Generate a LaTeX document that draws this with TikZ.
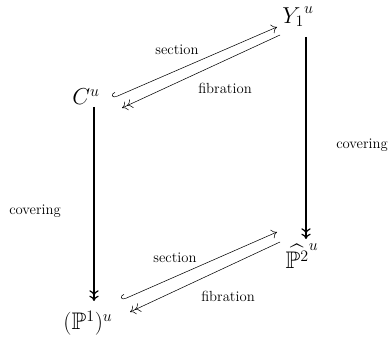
\documentclass[tikz,border=0pt]{standalone}
\usepackage{amsmath,amssymb}
\usepackage{tikz}
\usetikzlibrary{arrows.meta,positioning}

\begin{document}
\begin{tikzpicture}[x=0.75pt,y=-0.75pt,
   obj/.style={inner sep=0pt,font=\fontsize{18}{21}\selectfont},
   lbl/.style={inner sep=0pt,font=\fontsize{11}{13}\selectfont},
   >={Computer Modern Rightarrow[length=4pt,width=7pt]},
   sec/.style={{Hooks[right,length=3pt,width=7pt]}->},
   fib/.style={->>},
   cov/.style={->>,line width=0.9pt}]
 \useasboundingbox (0,0) rectangle (388,348);
 % objects
 \node[obj] (C)  at (86,97)  {$C^u$};
 \node[obj] (Y)  at (298,17) {${Y_1}^u$};
 \node[obj] (P2) at (302,256) {$\widehat{\mathbb{P}^2}^u$};
 \node[obj] (P1) at (88,323) {$(\mathbb{P}^1)^u$};
 % top pair
 \draw[sec] ([shift={(27,1)}]C.center) -- ([shift={(-21,10)}]Y.center);
 \draw[fib] ([shift={(-18,18)}]Y.center) -- ([shift={(36,11)}]C.center);
 \node[lbl] at (177,50) {section};
 \node[lbl] at (225,88) {fibration};
 % bottom pair
 \draw[sec] ([shift={(34,-23)}]P1.center) -- ([shift={(-25,-24)}]P2.center);
 \draw[fib] ([shift={(-22,-14)}]P2.center) -- ([shift={(42,-11)}]P1.center);
 \node[lbl] at (175,258) {section};
 \node[lbl] at (228,296) {fibration};
 % coverings
 \draw[cov] ([shift={(8,20)}]Y.center) -- ([shift={(4,-17)}]P2.center);
 \draw[cov] ([shift={(8,10)}]C.center) -- ([shift={(6,-22)}]P1.center);
 \node[lbl,anchor=east] at (388,145) {covering};
 \node[lbl] at (35,211) {covering};
\end{tikzpicture}
\end{document}
